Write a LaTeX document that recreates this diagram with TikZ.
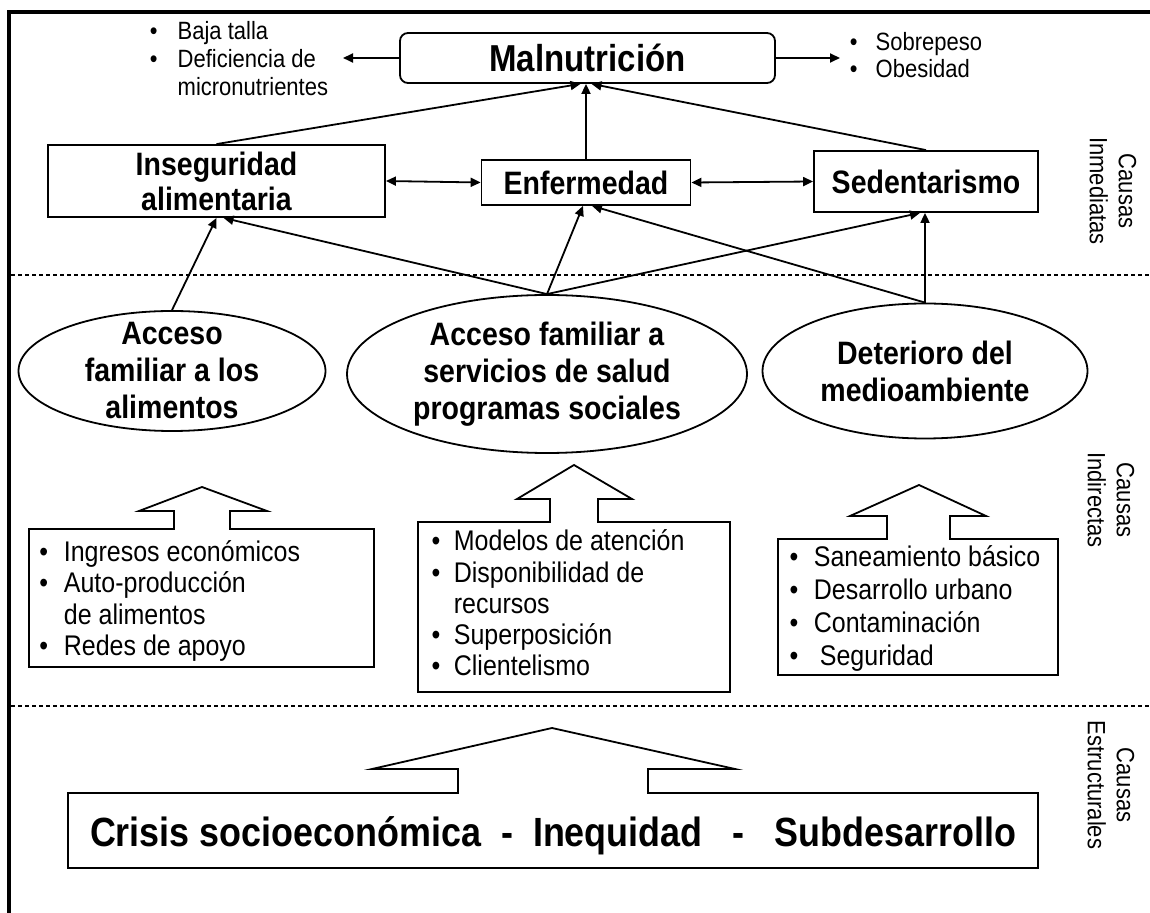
\documentclass[tikz,border=0pt]{standalone}
\usepackage{fontspec}
\setmainfont{Liberation Sans}[FakeStretch=0.88]
\usetikzlibrary{arrows.meta,shapes.geometric}
\newcommand{\bul}[1][12.2pt]{\makebox[#1][l]{•}}

\begin{document}
\begin{tikzpicture}[x=0.5pt,y=-0.5pt,line width=0.9pt,>={Triangle[length=5pt,width=4.5pt]},
  cbox/.style={draw,rectangle,inner sep=0pt,align=center,font={\fontsize{16.2}{17.5}\selectfont\bfseries}},
  cell/.style={draw,ellipse,inner sep=0pt,align=center,font={\fontsize{16.2}{18.5}\selectfont\bfseries}},
  blist/.style={anchor=west,inner sep=0pt,align=left},
  side/.style={rotate=-90,inner sep=0pt,align=center,font={\fontsize{12.5}{14.5}\selectfont}},
  sep/.style={dash pattern=on 2pt off 1.5pt,line width=0.9pt}]
  \fill[white] (0,0) rectangle (1150,913);
  \useasboundingbox (0,0) rectangle (1150,913);
  \draw[line width=1.6pt] (9,913) -- (9,12) -- (1150,12);
  \draw[sep] (11,275) -- (1150,275);
  \draw[sep] (11,706) -- (1150,706);

  \node[draw,rounded corners=4pt,minimum width=187.5pt,minimum height=25pt,inner sep=0pt,font={\fontsize{18.75}{20}\selectfont\bfseries}] (mal) at (587.5,58) {Malnutrición};
  \node[blist,font={\fontsize{12.5}{14}\selectfont}] (under) at (149,62) {\bul[13.9pt]Baja talla\strut\\ \bul[13.9pt]Deficiencia de\strut\\ \hspace*{13.9pt}micronutrientes\strut};
  \node[blist,font={\fontsize{12.5}{13.5}\selectfont}] (over) at (849,59) {\bul[12.9pt]Sobrepeso\strut\\ \bul[12.9pt]Obesidad\strut};
  \coordinate (undertip) at (343,58);
  \coordinate (overtip) at (840,58);

  \node[cbox,minimum width=168.5pt,minimum height=36pt] (inseg) at (216.5,181) {Inseguridad\\alimentaria};
  \node[cbox,minimum width=104.5pt,minimum height=22.5pt] (enferm) at (586,182.5) {Enfermedad};
  \node[cbox,minimum width=112pt,minimum height=30.5pt] (sedent) at (926,181.5) {Sedentarismo};

  \node[cell,minimum width=153.5pt,minimum height=60pt,inner ysep=-4pt] (accAli) at (172,371) {Acceso\\familiar a los\\alimentos};
  \node[cell,minimum width=200pt,minimum height=79pt,inner ysep=-1pt] (accSal) at (547,374) {Acceso familiar a\\servicios de salud\\programas sociales};
  \node[cell,minimum width=162.5pt,minimum height=67.5pt] (deter) at (925,371) {Deterioro del\\medioambiente};

  \draw[->] (mal.west) -- (undertip);
  \draw[->] (mal.east) -- (overtip);
  \draw[<->] (inseg.east) -- (enferm.west);
  \draw[<->] (enferm.east) -- (sedent.west);
  \draw[->] (inseg.north) -- ([xshift=-3.5pt]mal.south);
  \draw[->] (enferm.north) -- (enferm.north |- mal.south);
  \draw[->] (sedent.north) -- ([xshift=2pt]mal.south);
  \draw[->] (accAli.north) -- (inseg.south);
  \draw[->] (accSal.north) -- ([xshift=3.5pt]inseg.south);
  \draw[->] (accSal.north) -- ([xshift=-1.5pt]enferm.south);
  \draw[->] (accSal.north) -- ([xshift=-3pt]sedent.south);
  \draw[->] (deter.north) -- ([xshift=3pt]enferm.south);
  \draw[->] (deter.north) -- (deter.north |- sedent.south);

  \draw (29,529) -- (174,529) -- (174,511) -- (139,511) -- (202,487) -- (267,511) -- (230,511) -- (230,529) -- (374,529) -- (374,667) -- (29,667) -- cycle;
  \draw (418,522) -- (550,522) -- (550,499) -- (517,499) -- (574,465) -- (632,499) -- (598,499) -- (598,522) -- (730,522) -- (730,692) -- (418,692) -- cycle;
  \draw (778,539) -- (887,539) -- (887,516) -- (850,516) -- (919,485) -- (986,516) -- (950,516) -- (950,539) -- (1058,539) -- (1058,675) -- (778,675) -- cycle;
  \draw (68,793) -- (458,793) -- (458,769) -- (372,769) -- (552,728) -- (735,769) -- (648,769) -- (648,793) -- (1038,793) -- (1038,868) -- (68,868) -- cycle;

  \node[blist,font={\fontsize{14.2}{15.75}\selectfont}] (ingresos) at (38.6,602) {\bul Ingresos económicos\strut\\ \bul Auto-producción\strut\\ \hspace*{12.2pt}de alimentos\strut\\ \bul Redes de apoyo\strut};
  \node[blist,font={\fontsize{14.2}{15.6}\selectfont}] (modelos) at (430.6,607) {\bul[11.2pt]Modelos de atención\strut\\ \bul[11.2pt]Disponibilidad de\strut\\ \hspace*{11.2pt}recursos\strut\\ \bul[11.2pt]Superposición\strut\\ \bul[11.2pt]Clientelismo\strut};
  \node[blist,font={\fontsize{14.2}{16.5}\selectfont}] (saneam) at (788.6,609) {\bul Saneamiento básico\strut\\ \bul Desarrollo urbano\strut\\ \bul Contaminación\strut\\ \bul\hspace{3pt}Seguridad\strut};
  \node[font={\fontsize{20.4}{22}\selectfont\bfseries},anchor=base,inner sep=0pt] (crisis) at (553,846) {Crisis socioeconómica\hspace{10pt}-\hspace{10pt}Inequidad\hspace{15pt}-\hspace{15pt}Subdesarrollo};

  \node[side] (inmed) at (1113,191) {Causas\\Inmediatas};
  \node[side] (indir) at (1111,500) {Causas\\Indirectas};
  \node[side] (estruc) at (1111,785) {Causas\\Estructurales};
\end{tikzpicture}
\end{document}
